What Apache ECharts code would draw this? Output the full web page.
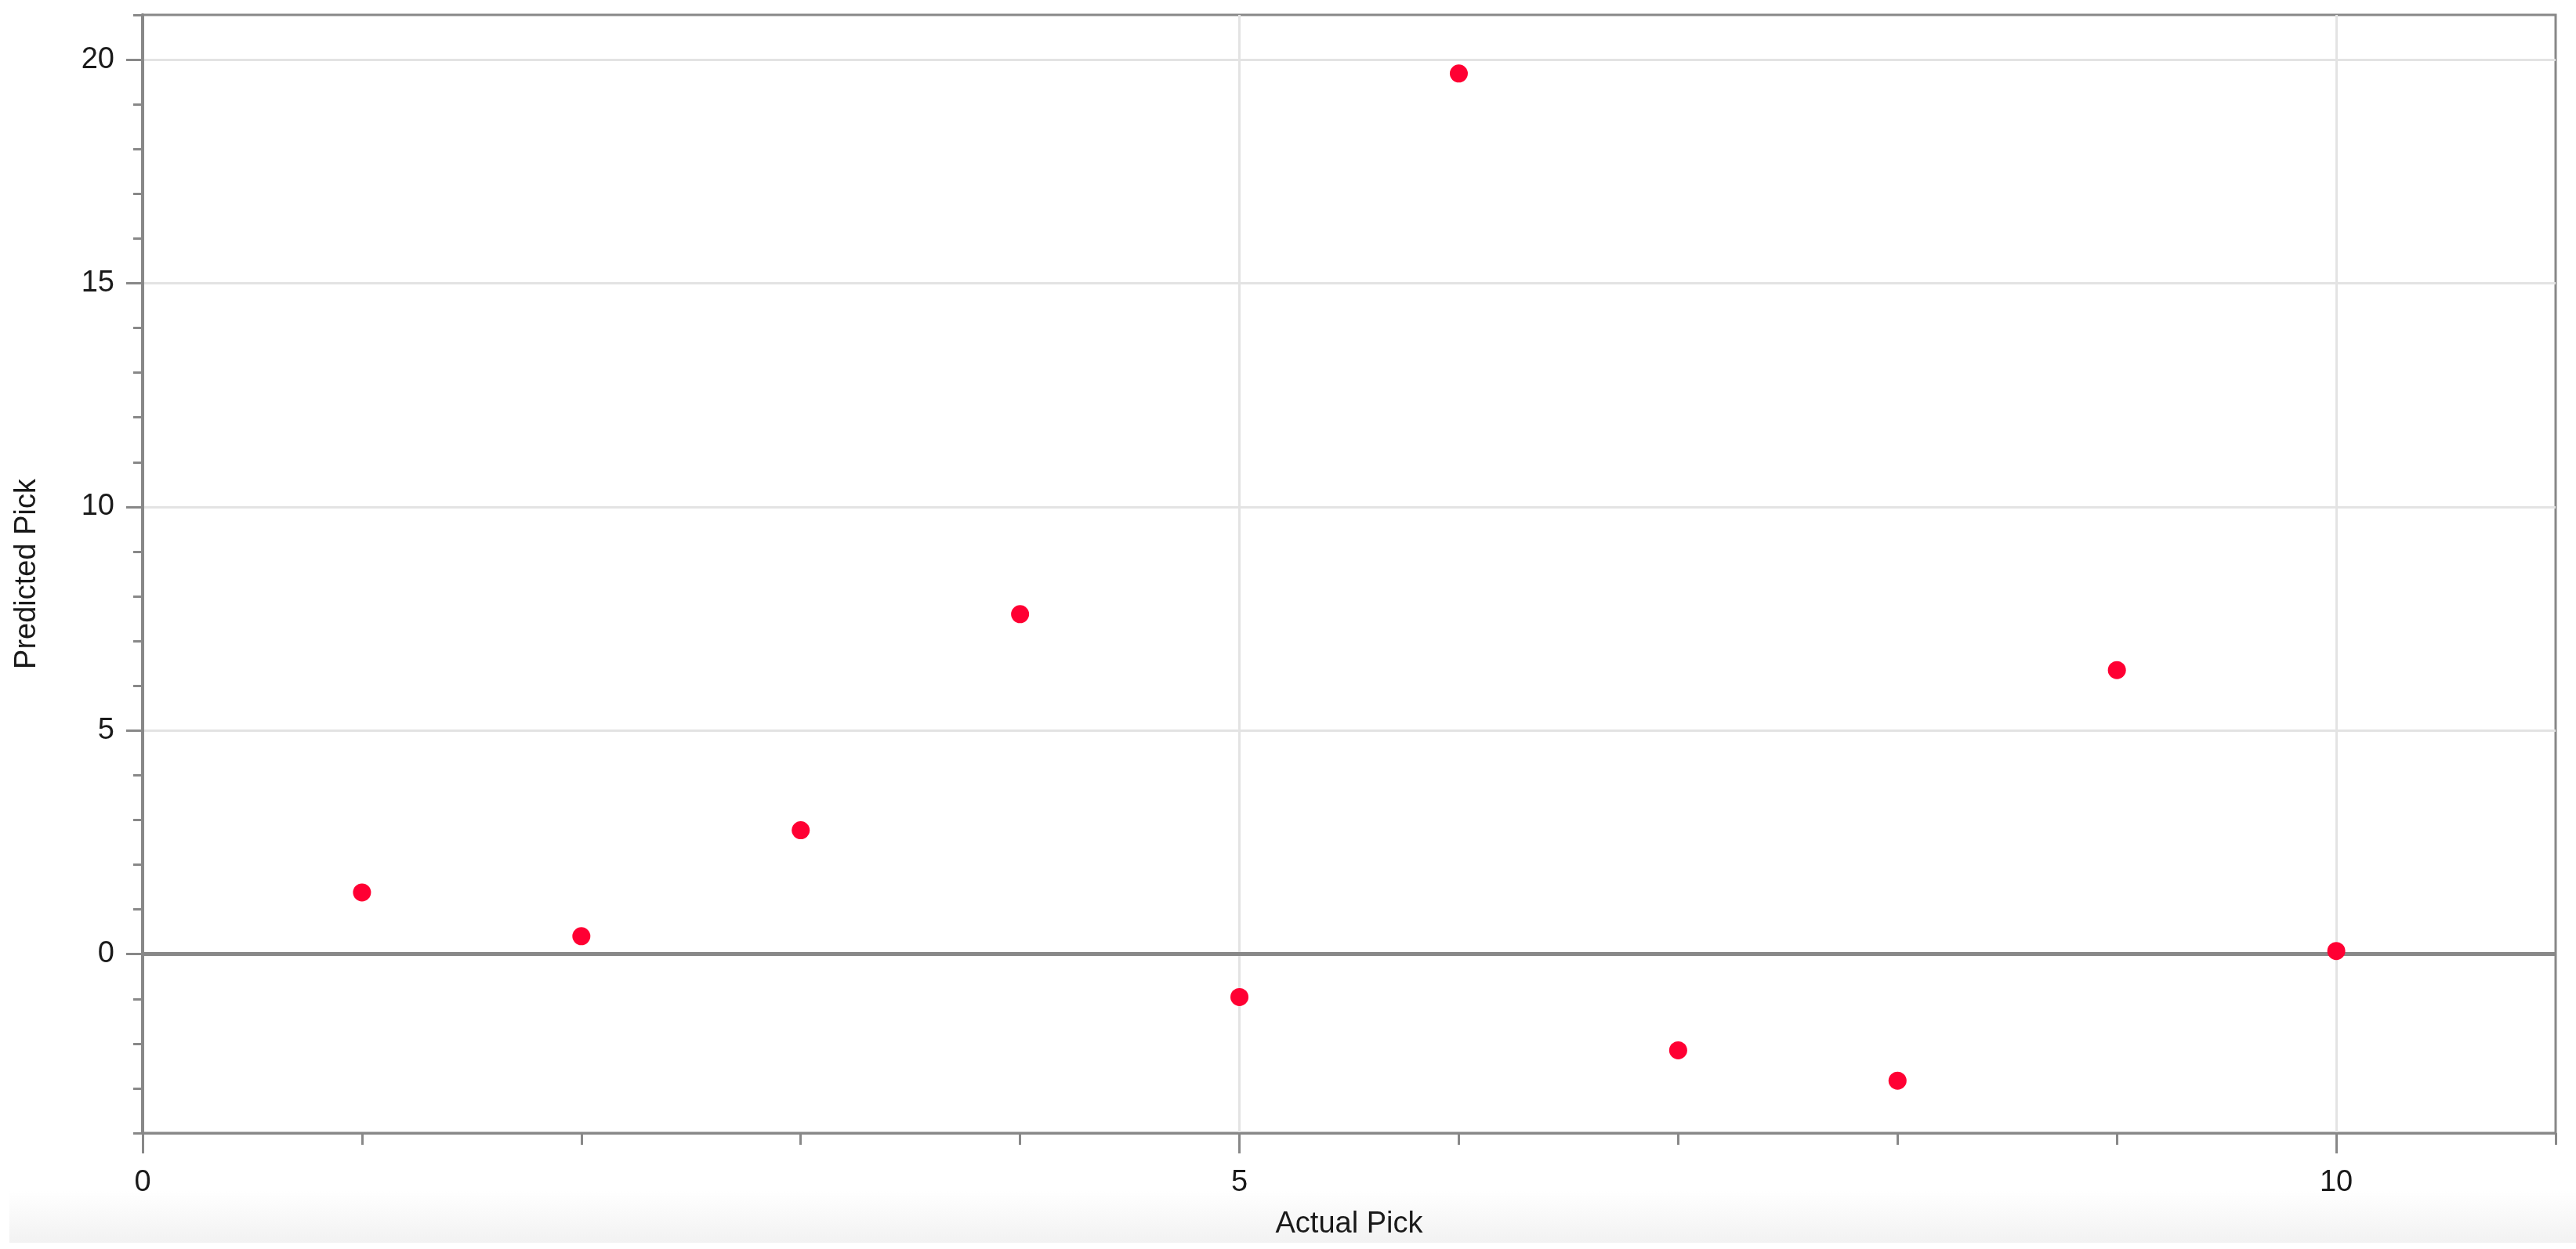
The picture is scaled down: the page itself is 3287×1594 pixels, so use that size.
<!DOCTYPE html>
<html><head><meta charset="utf-8">
<script src="https://cdn.jsdelivr.net/npm/echarts@6/dist/echarts.min.js"></script>
<style>html,body{margin:0;padding:0;background:#fff}#c{width:3287px;height:1594px}</style>
</head><body><div id="c"></div>
<script>
const actualPick = [1, 2, 3, 4, 5, 6, 7, 8, 9, 10];
const predictedPick = [1.38, 0.40, 2.77, 7.60, -0.96, 19.69, -2.15, -2.83, 6.35, 0.07];
const xMajorTicks = [0, 5, 10];
const xMinorTicks = [1, 2, 3, 4, 6, 7, 8, 9, 11];
const yMajorTicks = [0, 5, 10, 15, 20];
const yMinorTicks = [-4, -3, -2, -1, 1, 2, 3, 4, 6, 7, 8, 9, 11, 12, 13, 14, 16, 17, 18, 19, 21];
const xName = 'Actual Pick';
const yName = 'Predicted Pick';

const FONT = '"Liberation Sans", Arial, sans-serif';
const AX = '#888888';
const chart = echarts.init(document.getElementById('c'), null, {renderer: 'canvas'});
chart.setOption({
  animation: false,
  backgroundColor: '#ffffff',
  graphic: [{
    type: 'rect', z: -10, left: 12, top: 1520,
    shape: {width: 3275, height: 66},
    style: {fill: new echarts.graphic.LinearGradient(0, 0, 0, 1, [
      {offset: 0, color: '#ffffff'}, {offset: 1, color: '#f2f2f2'}])}
  }],
  grid: {
    left: 182, right: 26, top: 19, bottom: 148,
    show: true, borderColor: AX, borderWidth: 3, backgroundColor: 'transparent'
  },
  xAxis: [{
    type: 'value', min: 0, max: 11, interval: 5, position: 'bottom',
    name: xName, nameLocation: 'middle', nameGap: 98,
    nameTextStyle: {fontSize: 38, color: '#1a1a1a', fontFamily: FONT},
    axisLine: {show: true, onZero: false, lineStyle: {color: AX, width: 3}},
    axisTick: {show: true, customValues: xMajorTicks, length: 26, lineStyle: {color: AX, width: 3}},
    axisLabel: {show: true, customValues: xMajorTicks, fontSize: 38, color: '#1a1a1a', fontFamily: FONT, margin: 45},
    splitLine: {show: true, lineStyle: {color: '#e3e3e3', width: 3}}
  }, {
    type: 'value', min: 0, max: 11, position: 'bottom',
    axisLine: {show: false, onZero: false},
    axisTick: {show: true, customValues: xMinorTicks, length: 15, lineStyle: {color: AX, width: 3}},
    axisLabel: {show: false},
    splitLine: {show: false}
  }],
  yAxis: [{
    type: 'value', min: -4, max: 21, position: 'left',
    name: yName, nameLocation: 'middle', nameGap: 128,
    nameTextStyle: {fontSize: 38, color: '#1a1a1a', fontFamily: FONT},
    axisLine: {show: true, onZero: false, lineStyle: {color: AX, width: 4}},
    axisTick: {show: true, customValues: yMajorTicks, length: 21, lineStyle: {color: AX, width: 3}},
    axisLabel: {show: true, customValues: yMajorTicks, fontSize: 38, color: '#1a1a1a', fontFamily: FONT, margin: 36},
    splitLine: {show: true, lineStyle: {color: '#e3e3e3', width: 3}}
  }, {
    type: 'value', min: -4, max: 21, position: 'left',
    axisLine: {show: false, onZero: false},
    axisTick: {show: true, customValues: yMinorTicks, length: 12, lineStyle: {color: AX, width: 3}},
    axisLabel: {show: false},
    splitLine: {show: false}
  }],
  series: [{
    type: 'scatter', xAxisIndex: 0, yAxisIndex: 0,
    data: actualPick.map((x, i) => [x, predictedPick[i]]),
    symbol: 'circle', symbolSize: 23,
    itemStyle: {color: '#ff0033', opacity: 1},
    z: 5,
    markLine: {
      silent: true, symbol: 'none', animation: false,
      label: {show: false},
      lineStyle: {color: AX, width: 5, type: 'solid'},
      data: [{yAxis: 0}],
      z: 3
    }
  }]
});
</script></body></html>
